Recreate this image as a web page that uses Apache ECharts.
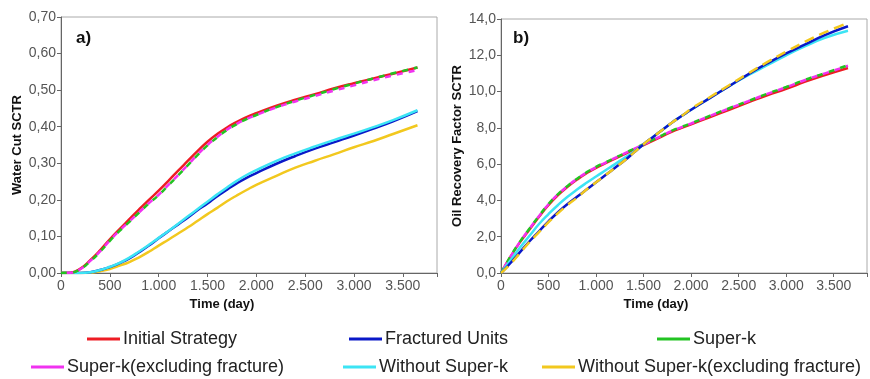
<!DOCTYPE html>
<html><head><meta charset="utf-8">
<script src="https://cdn.jsdelivr.net/npm/echarts@6/dist/echarts.min.js"></script>
<style>html,body{margin:0;padding:0;background:#fff}#c{width:870px;height:379px}</style>
</head><body><div id="c"></div>
<script>
const days = [0,100,200,300,400,500,600,700,800,900,1000,1100,1200,1300,1400,1500,1600,1700,1800,1900,2000,2200,2400,2600,2800,3000,3200,3400,3650];
const seriesNames = ['Initial Strategy','Fractured Units','Super-k','Super-k(excluding fracture)','Without Super-k','Without Super-k(excluding fracture)'];
const xTicks = [0,500,1000,1500,2000,2500,3000,3500];
const yTicksA = [0,0.1,0.2,0.3,0.4,0.5,0.6,0.7];
const yTicksB = [0,2,4,6,8,10,12,14];

// a) Water Cut SCTR
const wcInitial = [0,0.001,0.012,0.035,0.062,0.092,0.12,0.147,0.174,0.2,0.225,0.252,0.28,0.307,0.334,0.359,0.38,0.398,0.413,0.426,0.437,0.457,0.474,0.489,0.505,0.519,0.532,0.545,0.562];
const wcFractured = [0,0,0,0.002,0.008,0.016,0.027,0.04,0.057,0.075,0.095,0.114,0.133,0.152,0.172,0.19,0.21,0.228,0.245,0.26,0.273,0.298,0.32,0.34,0.358,0.376,0.395,0.415,0.443];
const wcSuperK = [0,0.001,0.011,0.032,0.058,0.088,0.115,0.14,0.165,0.19,0.213,0.24,0.267,0.295,0.323,0.349,0.371,0.391,0.407,0.421,0.432,0.453,0.471,0.487,0.503,0.518,0.532,0.546,0.562];
const wcSuperKExcl = [0,0.001,0.011,0.033,0.059,0.089,0.116,0.141,0.166,0.191,0.214,0.241,0.268,0.296,0.324,0.35,0.372,0.392,0.408,0.421,0.432,0.452,0.469,0.484,0.499,0.513,0.527,0.54,0.555];
const wcWithout = [0,0,0,0.002,0.008,0.017,0.028,0.042,0.059,0.077,0.096,0.115,0.135,0.155,0.175,0.195,0.215,0.234,0.252,0.268,0.281,0.306,0.327,0.346,0.364,0.381,0.399,0.418,0.445];
const wcWithoutExcl = [0,0,0,0.001,0.005,0.011,0.02,0.03,0.043,0.058,0.075,0.091,0.108,0.125,0.143,0.161,0.178,0.196,0.212,0.227,0.241,0.265,0.288,0.307,0.325,0.344,0.361,0.38,0.404];

// b) Oil Recovery Factor SCTR
const rfInitial = [0,0.9,1.7,2.4,3.1,3.75,4.3,4.75,5.15,5.5,5.8,6.05,6.3,6.55,6.8,7.05,7.3,7.55,7.8,8.0,8.2,8.6,9.0,9.4,9.8,10.15,10.55,10.9,11.3];
const rfFractured = [0,0.55,1.15,1.75,2.3,2.85,3.35,3.8,4.2,4.6,5.0,5.4,5.8,6.2,6.65,7.1,7.5,7.9,8.3,8.65,9.0,9.65,10.3,10.95,11.55,12.1,12.6,13.1,13.6];
const rfSuperK = [0,0.92,1.73,2.45,3.15,3.8,4.35,4.8,5.2,5.55,5.85,6.1,6.35,6.6,6.85,7.1,7.35,7.6,7.85,8.05,8.25,8.67,9.08,9.48,9.88,10.25,10.65,11.0,11.45];
const rfSuperKExcl = [0,0.9,1.72,2.44,3.14,3.79,4.34,4.79,5.19,5.54,5.84,6.09,6.34,6.59,6.84,7.09,7.34,7.59,7.84,8.04,8.24,8.66,9.07,9.47,9.87,10.24,10.64,10.99,11.42];
const rfWithout = [0,0.7,1.4,2.05,2.7,3.25,3.75,4.2,4.6,4.97,5.32,5.66,6.0,6.35,6.7,7.1,7.5,7.9,8.3,8.65,9.0,9.65,10.3,10.9,11.45,12.0,12.5,12.95,13.35];
const rfWithoutExcl = [0,0.5,1.1,1.7,2.25,2.8,3.3,3.75,4.15,4.6,5.0,5.4,5.8,6.2,6.65,7.1,7.5,7.9,8.3,8.65,9.05,9.7,10.35,11.0,11.62,12.2,12.75,13.25,13.78];

const colors = ['#ee1c24','#0a18c8','#22c322','#f032f0','#3ce4f4','#f2c81e'];
const FONT = '"Liberation Sans", Arial, sans-serif';

function pairs(vals){ return days.map((d,i)=>[d, vals[i]]); }
function xFmt(v){ if (xTicks.indexOf(v) < 0) return ''; return String(v).replace(/\B(?=(\d{3})+(?!\d))/g,'.'); }

function mkSeries(gi, name, vals, color, opts){
  return Object.assign({
    name, type:'line', xAxisIndex:gi, yAxisIndex:gi, data:pairs(vals),
    smooth:true, showSymbol:false, symbol:'none', animation:false,
    lineStyle:{color, width:2.5}, itemStyle:{color}
  }, opts||{});
}
function ls(color, type, extra){ return Object.assign({color, width:2.5, type}, extra||{}); }

const xBase = {
  type:'value', min:0, max:3850, interval:500,
  axisLine:{show:true, lineStyle:{color:'#666', width:1}},
  axisTick:{show:true, length:4, lineStyle:{color:'#666'}},
  axisLabel:{formatter:xFmt, color:'#555', fontSize:14, fontFamily:FONT, margin:6},
  splitLine:{show:false},
  name:'Time (day)', nameLocation:'middle', nameGap:24,
  nameTextStyle:{fontWeight:'bold', fontSize:13, color:'#111', fontFamily:FONT, padding:[0,54,0,0]}
};

const option = {
  backgroundColor:'#fff',
  animation:false,
  title:[
    {text:'a)', left:71, top:25, textStyle:{fontSize:17, fontWeight:'bold', color:'#111', fontFamily:FONT}},
    {text:'b)', left:508, top:25, textStyle:{fontSize:17, fontWeight:'bold', color:'#111', fontFamily:FONT}}
  ],
  grid:[
    {left:61, right:433, top:17, bottom:106, show:true, borderColor:'#aaa', borderWidth:1, backgroundColor:'#fff'},
    {left:501, right:-7, top:19, bottom:106, show:true, borderColor:'#aaa', borderWidth:1, backgroundColor:'#fff'}
  ],
  xAxis:[
    Object.assign({}, xBase, {gridIndex:0}),
    Object.assign({}, xBase, {gridIndex:1, nameTextStyle:Object.assign({}, xBase.nameTextStyle, {padding:[0,56,0,0]})})
  ],
  yAxis:[
    {gridIndex:0, type:'value', min:0, max:0.7, interval:0.1,
     axisLine:{show:true, lineStyle:{color:'#666'}}, axisTick:{show:true, length:4, lineStyle:{color:'#666'}},
     axisLabel:{formatter:v=>v.toFixed(2).replace('.',','), color:'#555', fontSize:14, fontFamily:FONT, margin:5},
     splitLine:{show:false},
     name:'Water Cut SCTR', nameLocation:'middle', nameGap:37,
     nameTextStyle:{fontWeight:'bold', fontSize:13, color:'#111', fontFamily:FONT}},
    {gridIndex:1, type:'value', min:0, max:14, interval:2,
     axisLine:{show:true, lineStyle:{color:'#666'}}, axisTick:{show:true, length:4, lineStyle:{color:'#666'}},
     axisLabel:{formatter:v=>v.toFixed(1).replace('.',','), color:'#555', fontSize:14, fontFamily:FONT, margin:5},
     splitLine:{show:false},
     name:'Oil Recovery Factor SCTR', nameLocation:'middle', nameGap:37,
     nameTextStyle:{fontWeight:'bold', fontSize:13, color:'#111', fontFamily:FONT}}
  ],
  legend: [
    [seriesNames[0], 87, 329],
    [seriesNames[1], 349, 329],
    [seriesNames[2], 657, 329],
    [seriesNames[3], 31, 357],
    [seriesNames[4], 343, 357],
    [seriesNames[5], 542, 357]
  ].map(([n,l,t])=>({
    data:[n], left:l, top:t, icon:'rect', itemWidth:33, itemHeight:3,
    selectedMode:false, padding:0,
    textStyle:{fontSize:18, color:'#222', fontFamily:FONT, lineHeight:20, padding:[0,0,0,-2]}
  })),
  series:[
    // a)
    mkSeries(0, seriesNames[5], wcWithoutExcl, colors[5]),
    mkSeries(0, seriesNames[1], wcFractured, colors[1]),
    mkSeries(0, seriesNames[4], wcWithout, colors[4]),
    mkSeries(0, seriesNames[0], wcInitial, colors[0]),
    mkSeries(0, seriesNames[2], wcSuperK, colors[2], {lineStyle:ls(colors[2],[6,6])}),
    mkSeries(0, seriesNames[3], wcSuperKExcl, colors[3], {lineStyle:ls(colors[3],[6,6],{dashOffset:6})}),
    // b)
    mkSeries(1, seriesNames[0], rfInitial, colors[0]),
    mkSeries(1, seriesNames[2], rfSuperK, colors[2], {lineStyle:ls(colors[2],[6,6])}),
    mkSeries(1, seriesNames[3], rfSuperKExcl, colors[3], {lineStyle:ls(colors[3],[6,6],{dashOffset:6})}),
    mkSeries(1, seriesNames[4], rfWithout, colors[4]),
    mkSeries(1, seriesNames[1], rfFractured, colors[1]),
    mkSeries(1, seriesNames[5], rfWithoutExcl, colors[5], {lineStyle:ls(colors[5],[10,6])})
  ]
};

const chart = echarts.init(document.getElementById('c'), null, {renderer:'canvas'});
chart.setOption(option);
</script>
</body></html>
